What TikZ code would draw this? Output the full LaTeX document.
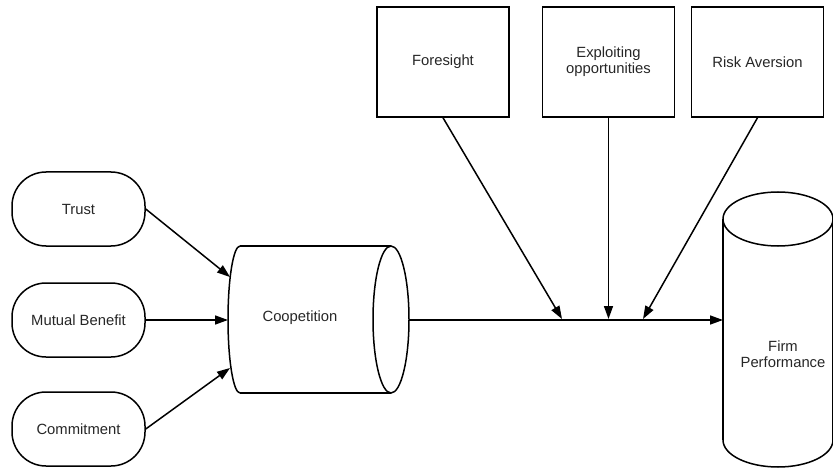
\documentclass[tikz,border=0pt]{standalone}
\usepackage{fontspec}
\setmainfont{Liberation Sans}
\usetikzlibrary{arrows.meta}
\begin{document}
\begin{tikzpicture}[x=1pt,y=-1pt,
  line width=1.5pt,
  every node/.style={font=\fontsize{14.8}{18}\selectfont, text=black!85},
  stadium/.style={draw, rounded corners=34pt, minimum width=133pt, minimum height=74pt, inner sep=0pt},
  topbox/.style={draw, minimum width=132pt, minimum height=110pt, inner sep=0pt, align=center},
  arr/.style={-{Triangle[length=13pt,width=9pt]}},
  ]
\useasboundingbox (0,0) rectangle (833,468);
% left inputs
\node[stadium] (trust) at (78.5,209) {Trust};
\node[stadium] (mutual) at (78.5,320) {Mutual Benefit};
\node[stadium] (commit) at (78.5,429) {Commitment};
% coopetition cylinder
\draw (240,246) -- (391,246);
\draw (240,393) -- (391,393);
\draw (391,319.5) ellipse [x radius=18, y radius=73.5];
\draw (240,246) arc [start angle=270, end angle=90, x radius=12, y radius=73.5];
\node (coop) at (300,318) {Coopetition};
\coordinate (coopR) at (409,320);
\coordinate (c1) at (230,277);
\coordinate (c2) at (228,320);
\coordinate (c3) at (230,368);
% top boxes
\node[topbox] (fore) at (443,62) {Foresight};
\node[topbox] (expl) at (608.5,62) {Exploiting\\[-2pt]opportunities};
\node[topbox] (risk) at (757.5,62) {Risk Aversion};
% firm performance cylinder
\draw (723,219) -- (723,440);
\draw (833,219) -- (833,440);
\draw (778,219) ellipse [x radius=55, y radius=27];
\draw (723,440) arc [start angle=180, end angle=0, x radius=55, y radius=27];
\node[align=center] (firm) at (783,354) {Firm\\[-2pt]Performance};
\coordinate (firmW) at (723,320);
% junctions on main line
\coordinate (j1) at (562,319);
\coordinate (j2) at (608.5,319);
\coordinate (j3) at (643,319);
% connectors
\draw[arr] (trust.east) -- (c1);
\draw[arr] (mutual.east) -- (c2);
\draw[arr] (commit.east) -- (c3);
\draw[arr] (coopR) -- (firmW);
\draw[arr] (fore.south) -- (j1);
\draw[arr] (expl.south) -- (j2);
\draw[arr] (risk.south) -- (j3);
\end{tikzpicture}
\end{document}
